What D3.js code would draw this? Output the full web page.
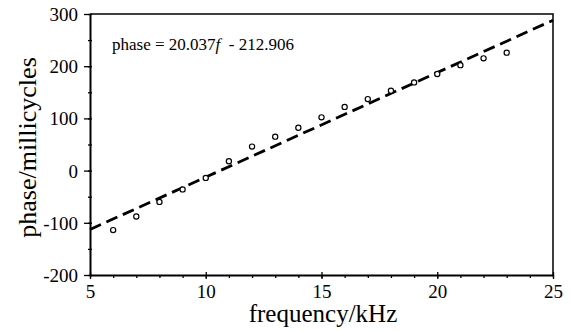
<!DOCTYPE html>
<html>
<head>
<meta charset="utf-8">
<script src="https://cdn.jsdelivr.net/npm/d3@7"></script>
<style>
  body { margin: 0; background: white; }
  svg { display: block; }
  svg text { font-family: "Liberation Serif", "Times New Roman", serif; fill: #000; }
</style>
</head>
<body>
<svg id="chart" width="571" height="331"></svg>
<script>
// measured points
const freqs = [6, 7, 8, 9, 10, 11, 12, 13, 14, 15, 16, 17, 18, 19, 20, 21, 22, 23];
const phases = [-114, -88, -60, -36, -14, 18, 46, 65, 82, 102, 122, 137, 153, 169, 185, 202, 215, 226];

// fitted line: phase = slope*f + intercept
const slope = 20.037;
const intercept = -212.906;
const fitRange = [5, 25];

const xTicks = [5, 10, 15, 20, 25];
const yTicks = [-200, -100, 0, 100, 200, 300];

const serif = "'Liberation Serif', 'Times New Roman', serif";
const svg = d3.select("#chart");

// plot area
const m = { left: 90, right: 553, top: 14, bottom: 275 };

const x = d3.scaleLinear().domain([5, 25]).range([m.left, m.right]);
const y = d3.scaleLinear().domain([-200, 300]).range([m.bottom, m.top]);

// plain hyphen instead of unicode minus
const fmt = d => String(d);

// frame top + right
svg.append("path")
    .attr("d", `M${m.left},${m.top}H${m.right}V${m.bottom}`)
    .attr("fill", "none")
    .attr("stroke", "#000")
    .attr("stroke-width", 1.5);

// x axis: minor ticks below, major ticks crossing the line
const xAxis = svg.append("g").attr("transform", `translate(0,${m.bottom})`);
xAxis.call(d3.axisBottom(x).tickValues(d3.range(5, 26, 1)).tickSize(3).tickSizeOuter(0).tickFormat(""));
const xMajor = xAxis.append("g").call(d3.axisBottom(x).tickValues(xTicks).tickSize(4).tickSizeOuter(0).tickFormat(fmt));
xMajor.select(".domain").remove();
xMajor.selectAll("line").attr("y1", -3);
xAxis.selectAll(".domain").attr("stroke-width", 2);
xAxis.selectAll("line").attr("stroke-width", 1.3);
xMajor.selectAll("text")
    .attr("font-size", "19px")
    .attr("y", 23)
    .attr("dy", null);

// y axis: minor ticks straddle, major ticks outward
const yAxis = svg.append("g").attr("transform", `translate(${m.left},0)`);
yAxis.call(d3.axisLeft(y).tickValues(d3.range(-200, 301, 50)).tickSize(2).tickSizeOuter(0).tickFormat(""));
yAxis.selectAll(".tick line").attr("x2", -2).attr("x1", 2);
const yMajor = yAxis.append("g").call(d3.axisLeft(y).tickValues(yTicks).tickSize(6).tickSizeOuter(0).tickFormat(fmt));
yMajor.select(".domain").remove();
yAxis.selectAll(".domain").attr("stroke-width", 2);
yAxis.selectAll("line").attr("stroke-width", 1.3);
yMajor.selectAll("text")
    .attr("font-size", "19px")
    .attr("x", -12)
    .attr("dy", "0.34em");

svg.selectAll("g").attr("font-family", null);
svg.selectAll(".tick text").style("font-family", serif).attr("fill", "#000");

// fitted dashed line
const fit = fitRange.map(f => [f, slope * f + intercept]);
svg.append("path")
    .datum(fit)
    .attr("d", d3.line().x(d => x(d[0])).y(d => y(d[1])))
    .attr("fill", "none")
    .attr("stroke", "#000")
    .attr("stroke-width", 2.8)
    .attr("stroke-dasharray", "12,6");

// data circles
svg.append("g")
    .selectAll("circle")
    .data(freqs.map((f, i) => [f, phases[i]]))
    .enter().append("circle")
    .attr("cx", d => x(d[0]))
    .attr("cy", d => y(d[1]))
    .attr("r", 2.6)
    .attr("fill", "white")
    .attr("stroke", "#000")
    .attr("stroke-width", 1.2);

// equation
const eq = svg.append("text")
    .attr("x", 112)
    .attr("y", 50)
    .attr("font-size", "17px")
    .style("font-family", serif);
eq.append("tspan").text("phase = 20.037");
eq.append("tspan").attr("font-style", "italic").text("f");
eq.append("tspan").attr("xml:space", "preserve").text("  - 212.906");

// axis titles
svg.append("text")
    .attr("x", 323)
    .attr("y", 322)
    .attr("text-anchor", "middle")
    .attr("font-size", "25px")
    .style("font-family", serif)
    .text("frequency/kHz");

svg.append("text")
    .attr("transform", `translate(36,${(m.top + m.bottom) / 2 + 3}) rotate(-90)`)
    .attr("text-anchor", "middle")
    .attr("font-size", "26px")
    .style("font-family", serif)
    .text("phase/millicycles");
</script>
</body>
</html>
